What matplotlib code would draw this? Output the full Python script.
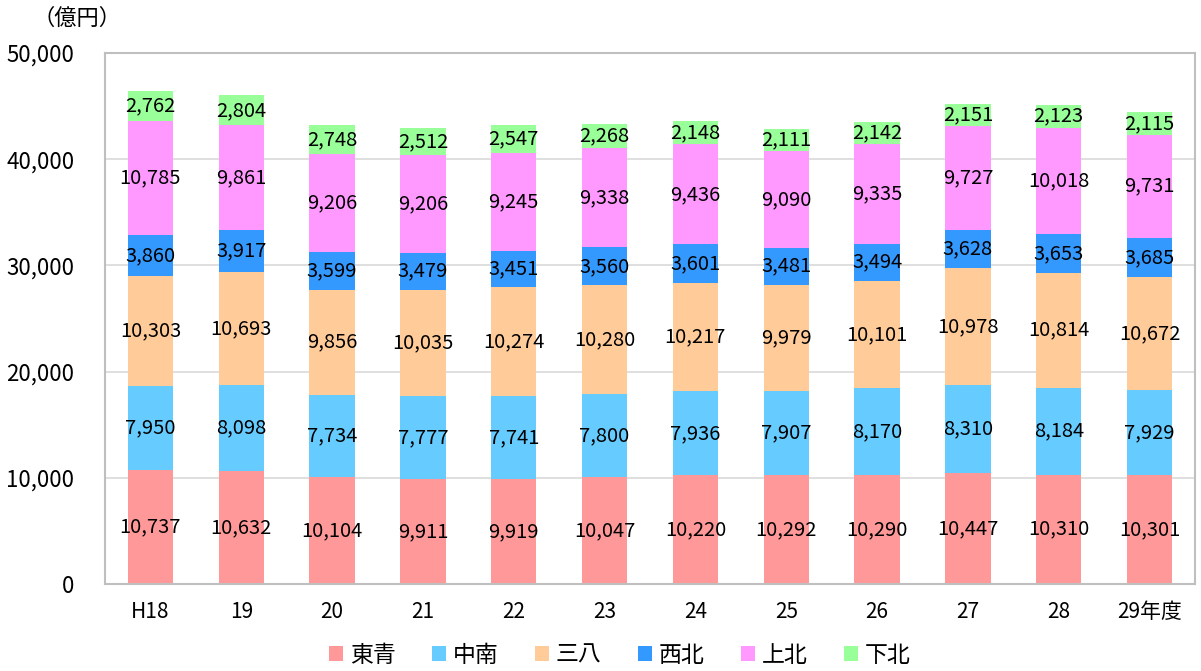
import matplotlib
matplotlib.use("Agg")
import matplotlib.pyplot as plt
from matplotlib.patches import Patch
from matplotlib.ticker import FuncFormatter

plt.rcParams['font.family'] = ['Noto Sans CJK JP', 'DejaVu Sans']

years = ["H18", "19", "20", "21", "22", "23", "24", "25", "26", "27", "28", "29年度"]
names = ["東青", "中南", "三八", "西北", "上北", "下北"]
colors = ["#FF9999", "#66CCFF", "#FFCC99", "#3399FF", "#FF99FF", "#99FF99"]

toao = [10737, 10632, 10104, 9911, 9919, 10047, 10220, 10292, 10290, 10447, 10310, 10301]
chunan = [7950, 8098, 7734, 7777, 7741, 7800, 7936, 7907, 8170, 8310, 8184, 7929]
sanpachi = [10303, 10693, 9856, 10035, 10274, 10280, 10217, 9979, 10101, 10978, 10814, 10672]
seihoku = [3860, 3917, 3599, 3479, 3451, 3560, 3601, 3481, 3494, 3628, 3653, 3685]
kamikita = [10785, 9861, 9206, 9206, 9245, 9338, 9436, 9090, 9335, 9727, 10018, 9731]
shimokita = [2762, 2804, 2748, 2512, 2547, 2268, 2148, 2111, 2142, 2151, 2123, 2115]

series = [toao, chunan, sanpachi, seihoku, kamikita, shimokita]

fig = plt.figure(figsize=(12.01, 6.71), dpi=100)
ax = fig.add_axes([105 / 1201, 1 - 584 / 671, 1090 / 1201, 531 / 671])

x = list(range(len(years)))
bottom = [0] * len(years)
for vals, col in zip(series, colors):
    ax.bar(x, vals, 0.5, bottom=bottom, color=col, zorder=2)
    for i, v in enumerate(vals):
        ax.text(i, bottom[i] + v / 2, f"{v:,}", ha="center", va="center",
                fontsize=14.5, zorder=3)
    bottom = [b + v for b, v in zip(bottom, vals)]

ax.set_xlim(-0.5, 11.5)
ax.set_ylim(0, 50000)
ax.set_yticks(range(0, 50001, 10000))
ax.yaxis.set_major_formatter(FuncFormatter(lambda v, p: f"{int(v):,}"))
ax.set_xticks(x)
ax.set_xticklabels(years)
ax.tick_params(length=0, labelsize=15)
ax.tick_params(axis="y", labelsize=16, pad=22)
ax.tick_params(axis="x", pad=12)
ax.grid(axis="y", color="#D9D9D9", linewidth=1.2, zorder=0)
for s in ax.spines.values():
    s.set_color("#BFBFBF")
    s.set_linewidth(1.5)

fig.text(32 / 1201, 1 - 18 / 671, "（億円）", fontsize=16, va="center")

handles = [Patch(facecolor=c, label=n) for n, c in zip(names, colors)]
fig.legend(handles=handles, loc="center", bbox_to_anchor=(620 / 1201, 1 - 655 / 671),
           ncol=6, frameon=False, fontsize=16.5, handlelength=0.6, handleheight=0.6,
           handletextpad=0.3, columnspacing=1.6)

fig.savefig("out.png", dpi=100)
